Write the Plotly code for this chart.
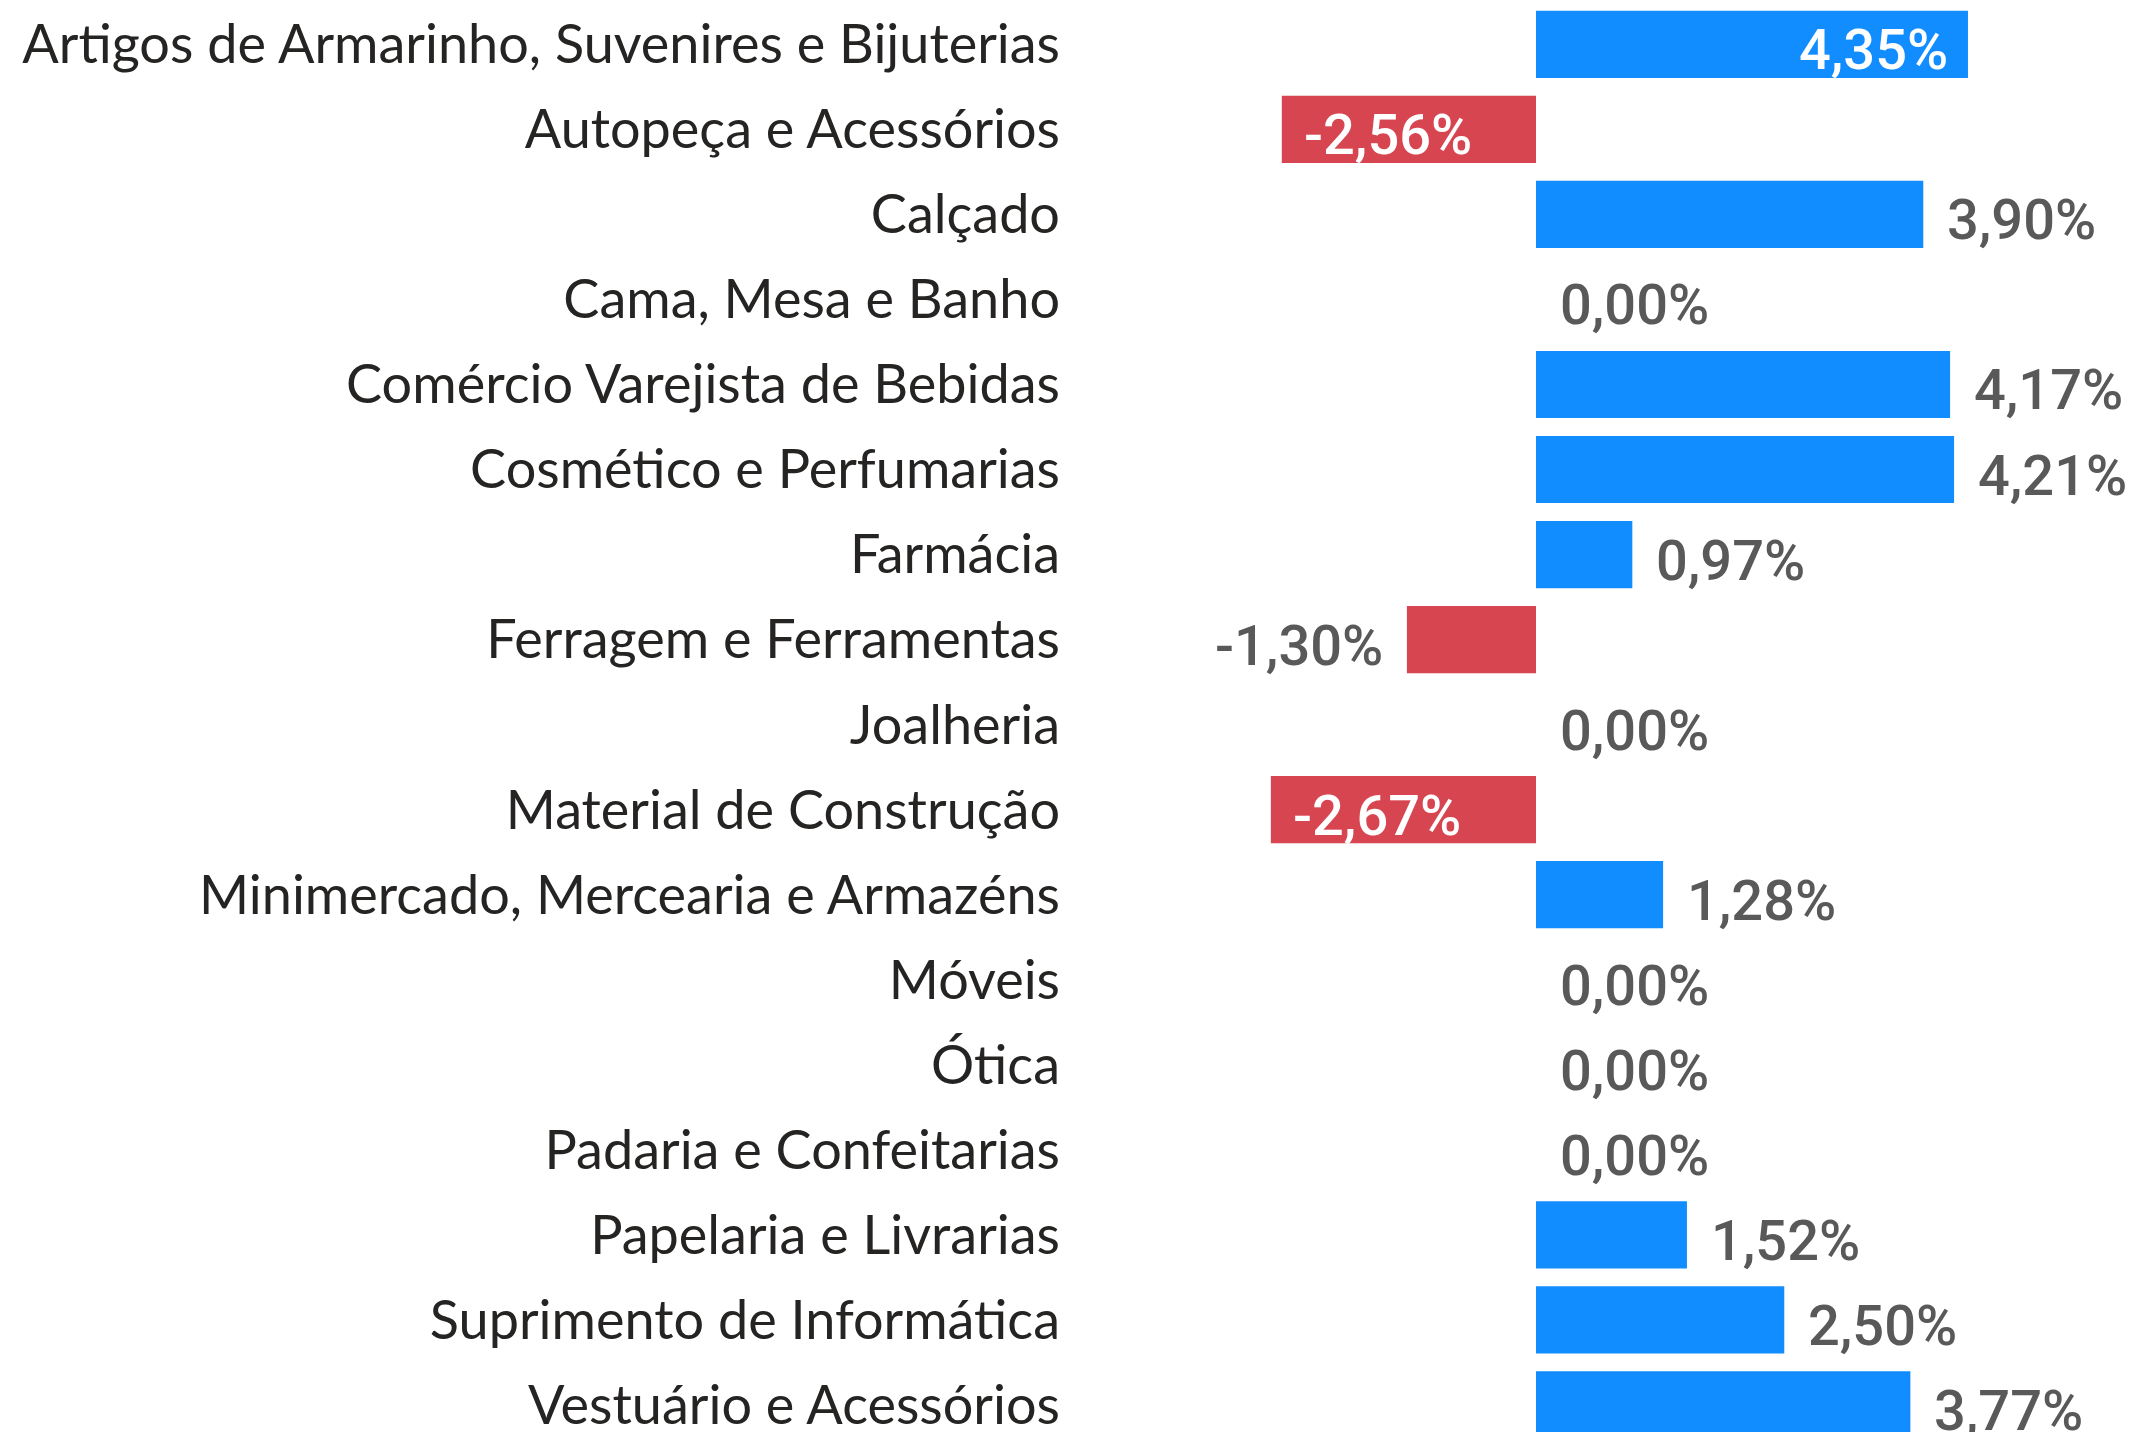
import plotly.graph_objects as go

categories = [
    "Artigos de Armarinho, Suvenires e Bijuterias",
    "Autopeça e Acessórios",
    "Calçado",
    "Cama, Mesa e Banho",
    "Comércio Varejista de Bebidas",
    "Cosmético e Perfumarias",
    "Farmácia",
    "Ferragem e Ferramentas",
    "Joalheria",
    "Material de Construção",
    "Minimercado, Mercearia e Armazéns",
    "Móveis",
    "Ótica",
    "Padaria e Confeitarias",
    "Papelaria e Livrarias",
    "Suprimento de Informática",
    "Vestuário e Acessórios",
]
values = [4.35, -2.56, 3.90, 0.00, 4.17, 4.21, 0.97, -1.30, 0.00, -2.67,
          1.28, 0.00, 0.00, 0.00, 1.52, 2.50, 3.77]

BLUE = "#118DFF"
RED = "#D64550"
LABEL_GRAY = "#595959"

def fmt(v):
    return f"{v:.2f}".replace(".", ",") + "%"

colors = [BLUE if v >= 0 else RED for v in values]

fig = go.Figure(go.Bar(
    x=values, y=categories, orientation="h",
    marker=dict(color=colors, line=dict(width=0)),
    hoverinfo="skip",
))

X_MIN, X_MAX = -4.733, 6.042
label_font = dict(family="Roboto", size=56, weight=500)

annotations = []
for cat, v in zip(categories, values):
    text = fmt(v)
    # labels that would not fit outside go inside the bar end
    inside = (v >= 0 and v + 1.75 > X_MAX) or (v < 0 and v < -2.5)
    if inside:
        if v >= 0:
            anchor, shift = "right", -18
        else:
            anchor, shift = "left", 20
        color = "white"
    else:
        if v >= 0:
            anchor, shift = "left", 22
        else:
            anchor, shift = "right", -22
        color = LABEL_GRAY
    annotations.append(dict(
        x=v, y=cat, xref="x", yref="y", text=text, showarrow=False,
        xanchor=anchor, yanchor="middle", xshift=shift, yshift=-6,
        font=dict(color=color, **label_font),
    ))

fig.update_layout(
    width=2136, height=1432,
    margin=dict(l=1058, r=8, t=0, b=8),
    paper_bgcolor="white", plot_bgcolor="white",
    bargap=0.21,
    showlegend=False,
    annotations=annotations,
    xaxis=dict(range=[X_MIN, X_MAX], visible=False, fixedrange=True),
    yaxis=dict(
        type="category",
        categoryorder="array", categoryarray=categories,
        range=[16.318, -0.427],
        showgrid=False, zeroline=False, showline=False, ticks="",
        ticklabelstandoff=5,
        tickfont=dict(family="Lato", size=54, color="#252423"),
        fixedrange=True,
    ),
)

fig.write_html("out.html")
